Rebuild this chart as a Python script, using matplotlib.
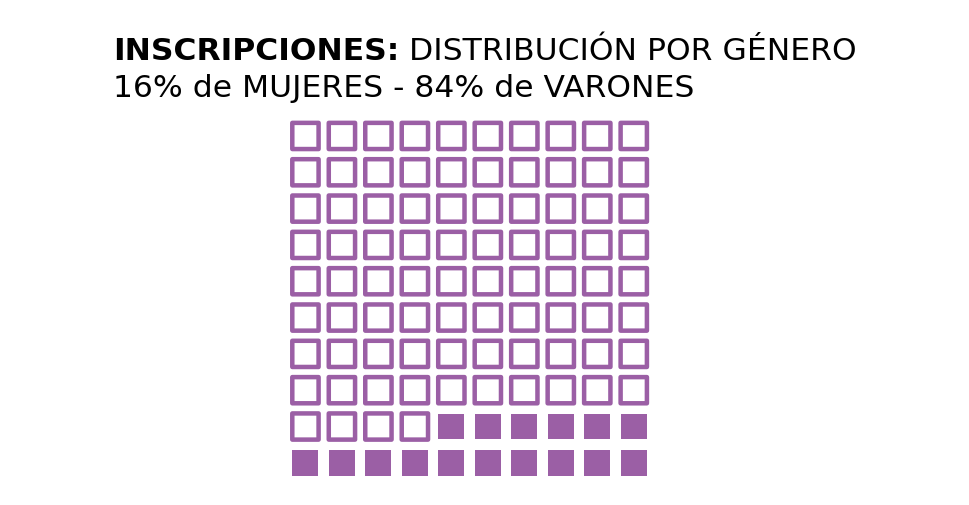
import matplotlib.pyplot as plt
from matplotlib.patches import Rectangle

# data
title_bold = "INSCRIPCIONES:"
title_rest = " DISTRIBUCIÓN POR GÉNERO"
subtitle = "16% de MUJERES - 84% de VARONES"
n_rows = 10
n_cols = 10
pct_mujeres = 16
pct_varones = 84

purple = "#9b5fa5"
W, H = 970, 506

fig = plt.figure(figsize=(W / 100, H / 100), dpi=100)
fig.patch.set_facecolor("white")

# waffle axes, positioned in pixels
x0, x1 = 287.2, 652.0
y_top, y_bot = 118.8, 482.0
ax = fig.add_axes([x0 / W, (H - y_bot) / H, (x1 - x0) / W, (y_bot - y_top) / H])
ax.set_xlim(-0.5, n_cols - 0.5)
ax.set_ylim(n_rows - 0.5, -0.5)
ax.axis("off")

px = (x1 - x0) / n_cols  # pixels per unit
lw_px = 4.5
hollow = 26.3 / px
filled = 26.0 / px

total = n_rows * n_cols
for k in range(total):
    # count filled cells from the bottom-right corner
    idx_from_end = total - 1 - k
    r, c = divmod(k, n_cols)
    if idx_from_end < pct_mujeres:
        ax.add_patch(Rectangle((c - filled / 2, r - filled / 2), filled, filled,
                               facecolor=purple, edgecolor="none"))
    else:
        ax.add_patch(Rectangle((c - hollow / 2, r - hollow / 2), hollow, hollow,
                               facecolor="none", edgecolor=purple, snap=False,
                               linewidth=lw_px * 72 / 100, joinstyle="round"))

# titles
fs = 22.6
fam = ["DejaVu Sans"]
t1 = fig.text(113 / W, 1 - 60 / H, title_bold, fontsize=fs, fontweight="bold",
              family=fam, va="baseline", ha="left", color="black")
fig.canvas.draw()
bb = t1.get_window_extent()
fig.text(bb.x1 / W, 1 - 60 / H, title_rest, fontsize=fs, family=fam,
         va="baseline", ha="left", color="black")
fig.text(113 / W, 1 - 97 / H, subtitle, fontsize=fs, family=fam,
         va="baseline", ha="left", color="black")

fig.savefig("out.png", dpi=100, facecolor="white")
